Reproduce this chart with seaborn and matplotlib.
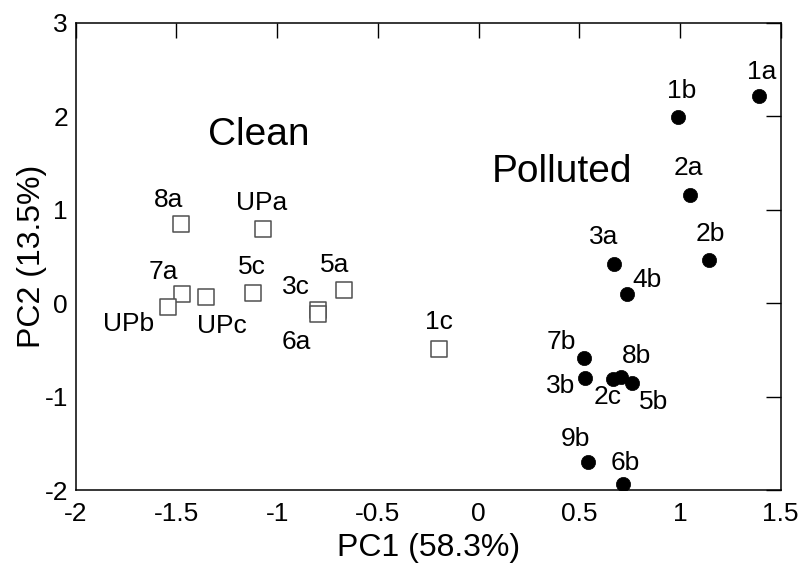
import matplotlib
matplotlib.use("Agg")
import matplotlib.pyplot as plt
import seaborn as sns
import pandas as pd

# Data
clean_labels = ["8a", "UPa", "7a", "UPb", "UPc", "5c", "3c", "6a", "5a", "1c"]
clean_pc1 = [-1.476, -1.070, -1.474, -1.540, -1.352, -1.118, -0.795, -0.795, -0.666, -0.196]
clean_pc2 = [0.846, 0.796, 0.097, -0.039, 0.062, 0.111, -0.074, -0.117, 0.140, -0.495]

polluted_labels = ["1a", "1b", "2a", "3a", "2b", "4b", "7b", "3b", "2c", "8b", "5b", "9b", "6b"]
polluted_pc1 = [1.394, 0.989, 1.050, 0.673, 1.143, 0.737, 0.524, 0.530, 0.669, 0.706, 0.761, 0.542, 0.719]
polluted_pc2 = [2.216, 1.994, 1.156, 0.418, 0.461, 0.094, -0.584, -0.805, -0.809, -0.794, -0.858, -1.704, -1.936]

x_ticks = [-2, -1.5, -1, -0.5, 0, 0.5, 1, 1.5]
x_tick_labels = ["-2", "-1.5", "-1", "-0.5", "0", "0.5", "1", "1.5"]
y_ticks = [-2, -1, 0, 1, 2, 3]
y_tick_labels = ["-2", "-1", "0", "1", "2", "3"]

# label offsets in pixels (layout)
label_offsets = {
    "8a": (-13, 24), "UPa": (-1, 26), "7a": (-18, 22), "UPb": (-40, -17),
    "UPc": (16, -29), "5c": (-1, 26), "3c": (-22, 23), "6a": (-22, -28),
    "5a": (-10, 25), "1c": (0, 27),
    "1a": (2, 24), "1b": (4, 26), "2a": (-2, 27), "3a": (-10, 27), "2b": (2, 26),
    "4b": (20, 14), "7b": (-23, 16), "3b": (-25, -8), "2c": (-6, -18),
    "8b": (16, 21), "5b": (22, -19), "9b": (-12, 23), "6b": (2, 21),
}

df = pd.DataFrame({
    "PC1": clean_pc1 + polluted_pc1,
    "PC2": clean_pc2 + polluted_pc2,
    "label": clean_labels + polluted_labels,
    "group": ["Clean"] * len(clean_labels) + ["Polluted"] * len(polluted_labels),
})

sns.set_style("white")
plt.rcParams["font.family"] = ["Liberation Sans", "DejaVu Sans"]
plt.rcParams["text.color"] = "black"
plt.rcParams["axes.labelcolor"] = "black"
plt.rcParams["xtick.color"] = "black"
plt.rcParams["ytick.color"] = "black"

fig = plt.figure(figsize=(7.99, 5.68), dpi=100)
ax = fig.add_axes([0.0947, 0.1373, 0.9771 - 0.0947, 0.96 - 0.1373])

clean_df = df[df.group == "Clean"]
poll_df = df[df.group == "Polluted"]
sns.scatterplot(data=clean_df, x="PC1", y="PC2", marker="s", s=140,
                facecolor="white", edgecolor="#505050", linewidth=1.1, ax=ax, zorder=3)
sns.scatterplot(data=poll_df, x="PC1", y="PC2", marker="o", s=105,
                color="black", edgecolor="black", linewidth=0.5, ax=ax, zorder=4)

for _, r in df.iterrows():
    dx, dy = label_offsets[r["label"]]
    ax.annotate(r["label"], (r["PC1"], r["PC2"]), xytext=(dx, dy),
                textcoords="offset pixels", ha="center", va="center",
                fontsize=19, color="black")

ax.text(-1.093, 1.798, "Clean", fontsize=28, ha="center", va="center", color="black")
ax.text(0.413, 1.406, "Polluted", fontsize=28, ha="center", va="center", color="black")

ax.set_xlim(-2, 1.5)
ax.set_ylim(-2, 3)
ax.set_xticks(x_ticks)
ax.set_xticklabels(x_tick_labels)
ax.set_yticks(y_ticks)
ax.set_yticklabels(y_tick_labels)
ax.tick_params(direction="in", length=10.5, width=1, top=True, right=True,
               labelsize=19, colors="black")
ax.tick_params(axis="x", pad=8.5)
ax.tick_params(axis="y", pad=5.5)
for sp in ax.spines.values():
    sp.set_visible(True)
    sp.set_color("black")
    sp.set_linewidth(1.1)
ax.set_xlabel("PC1 (58.3%)", fontsize=23, labelpad=5, color="black")
ax.set_ylabel("PC2 (13.5%)", fontsize=23, labelpad=-2, color="black")
ax.grid(False)

fig.savefig("out.png", dpi=100)
